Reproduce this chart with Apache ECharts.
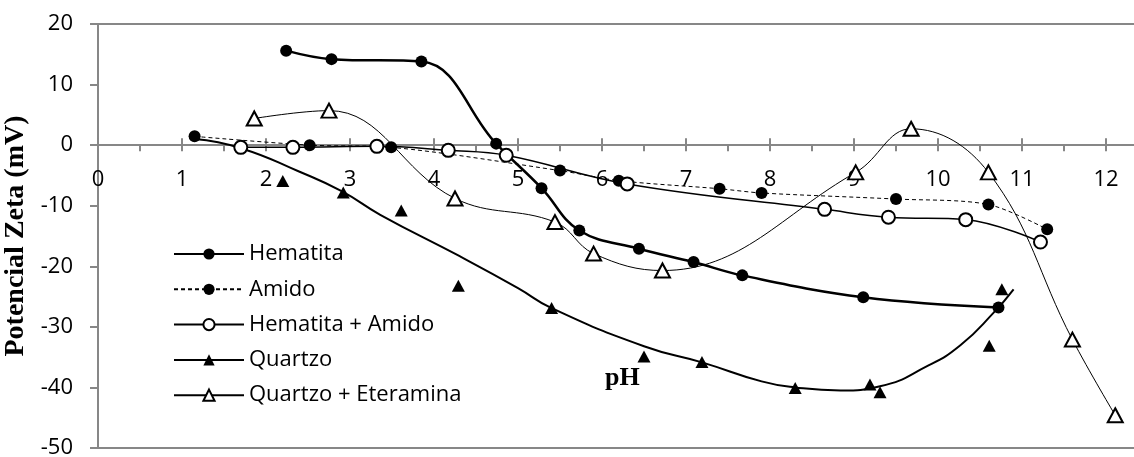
<!DOCTYPE html>
<html>
<head>
<meta charset="utf-8">
<script src="https://cdn.jsdelivr.net/npm/echarts@6/dist/echarts.min.js"></script>
<style>
html,body{margin:0;padding:0;background:#fff;}
#chart{width:1134px;height:457px;}
</style>
</head>
<body>
<div id="chart"></div>
<script>
// ---- data ----
var xTicks = [0,1,2,3,4,5,6,7,8,9,10,11,12];
var yTicks = [-50,-40,-30,-20,-10,0,10,20];

var hematitaX = [2.24, 2.78, 3.85, 4.74, 5.28, 5.73, 6.44, 7.09, 7.67, 9.11, 10.72];
var hematitaY = [15.6, 14.2, 13.8, 0.25, -7.1, -14.1, -17.1, -19.3, -21.5, -25.1, -26.8];

var amidoX = [1.15, 2.52, 3.49, 5.50, 6.20, 7.40, 7.90, 9.50, 10.60, 11.30];
var amidoY = [1.45, 0.0, -0.36, -4.2, -5.86, -7.2, -7.9, -8.9, -9.8, -13.9];

var hemAmidoX = [1.70, 2.32, 3.32, 4.17, 4.86, 6.30, 8.65, 9.41, 10.33, 11.22];
var hemAmidoY = [-0.36, -0.36, -0.2, -0.86, -1.68, -6.4, -10.6, -11.9, -12.3, -16.0];

var quartzoX = [2.20, 2.92, 3.61, 4.29, 5.40, 6.50, 7.19, 8.30, 9.19, 9.31, 10.61, 10.76];
var quartzoY = [-5.9, -7.8, -10.8, -23.2, -26.9, -34.9, -35.8, -40.1, -39.5, -40.8, -33.1, -23.8];

// trendline of Quartzo as drawn in the reference
var trendX = [1.15, 1.7, 2.4, 2.9, 3.36, 4.3, 5.0, 5.4, 6.5, 7.2, 7.9, 8.3, 8.84, 9.31, 9.87, 10.27, 10.66, 10.9];
var trendY = [1.0, -0.5, -4.4, -7.6, -11.5, -18.3, -23.6, -26.9, -33.2, -35.9, -39.0, -40.0, -40.5, -39.8, -36.5, -33.0, -27.7, -23.8];

var qEterX = [1.86, 2.75, 4.25, 5.44, 5.90, 6.72, 9.02, 9.68, 10.60, 11.60, 12.11];
var qEterY = [4.4, 5.7, -8.8, -12.7, -17.9, -20.7, -4.5, 2.7, -4.5, -32.1, -44.6];

var seriesNames = ['Hematita', 'Amido', 'Hematita + Amido', 'Quartzo', 'Quartzo + Eteramina'];
var yAxisTitle = 'Potencial Zeta (mV)';
var xAxisTitle = 'pH';

function pairs(xs, ys){ return xs.map(function(x,i){ return [x, ys[i]]; }); }

var axisGray = '#878787';
var tickFont = '"Open Sans", sans-serif';
var X_MIN = 0, X_MAX = 13, Y_MIN = -50, Y_MAX = 20;
var G_LEFT = 98, G_TOP = 24, G_W = 1092, G_H = 424;
var zeroY = G_TOP + G_H * (Y_MAX - 0) / (Y_MAX - Y_MIN);

var chart = echarts.init(document.getElementById('chart'), null, {renderer:'canvas'});
chart.setOption({
  animation: false,
  backgroundColor: '#fff',
  grid: [
    // main plot
    { left: G_LEFT, top: G_TOP, width: G_W, height: G_H, show: true, borderColor: axisGray, borderWidth: 2,
      backgroundColor: 'transparent', containLabel: false, outerBoundsMode: 'none' },
    // upper part ending at y = 0 (x-axis line, labels, upward ticks)
    { left: G_LEFT, top: G_TOP, width: G_W, height: zeroY - G_TOP, show: false, containLabel: false, outerBoundsMode: 'none' },
    // lower part starting at y = 0 (downward ticks every 0.5)
    { left: G_LEFT, top: zeroY, width: G_W, height: G_TOP + G_H - zeroY, show: false, containLabel: false, outerBoundsMode: 'none' }
  ],
  xAxis: [{
    gridIndex: 0, type: 'value', min: X_MIN, max: X_MAX, interval: 1,
    axisLine: { show: false }, axisTick: { show: false }, axisLabel: { show: false }, splitLine: { show: false }
  }, {
    gridIndex: 1, type: 'value', min: X_MIN, max: X_MAX, interval: 1, position: 'bottom',
    axisLine: { show: true, onZero: false, lineStyle: { color: axisGray, width: 2 } },
    axisTick: { show: true, inside: true, length: 7, lineStyle: { color: axisGray, width: 2 } },
    axisLabel: { margin: 24, color: '#000', fontSize: 22, fontFamily: tickFont,
      formatter: function(v){ return xTicks.indexOf(v) >= 0 ? String(v) : ''; } },
    splitLine: { show: false }
  }, {
    gridIndex: 2, type: 'value', min: X_MIN, max: X_MAX, interval: 0.5, position: 'top',
    axisLine: { show: false, onZero: false },
    axisTick: { show: true, inside: true, length: 6, lineStyle: { color: axisGray, width: 2 } },
    axisLabel: { show: false },
    splitLine: { show: false }
  }],
  yAxis: [{
    gridIndex: 0, type: 'value', min: Y_MIN, max: Y_MAX, interval: 10,
    name: yAxisTitle, nameLocation: 'middle', nameGap: 58, nameRotate: 90,
    nameTextStyle: { fontFamily: '"Liberation Serif", "Times New Roman", serif', fontWeight: 'bold', fontSize: 28, color: '#000' },
    axisLine: { show: true, onZero: false, lineStyle: { color: axisGray, width: 2 } },
    axisTick: { show: true, inside: false, length: 8, lineStyle: { color: axisGray, width: 2 } },
    axisLabel: { margin: 25, color: '#000', fontSize: 22, fontFamily: tickFont,
      formatter: function(v){ return yTicks.indexOf(v) >= 0 ? String(v) : ''; } },
    splitLine: { show: false }
  }, {
    gridIndex: 1, type: 'value', min: 0, max: Y_MAX, show: false
  }, {
    gridIndex: 2, type: 'value', min: Y_MIN, max: 0, show: false
  }],
  legend: {
    orient: 'vertical', left: 173, top: 243, padding: 0, itemWidth: 70, itemHeight: 14, itemGap: 13.3,
    textStyle: { fontFamily: tickFont, fontSize: 22, color: '#000', lineHeight: 22 },
    data: [
      { name: 'Hematita' },
      { name: 'Amido' },
      { name: 'Hematita + Amido' },
      { name: 'Quartzo', lineStyle: { width: 2, color: '#000', opacity: 1, type: 'solid' } },
      { name: 'Quartzo + Eteramina' }
    ]
  },
  graphic: [{
    type: 'text', left: 605, top: 365, silent: true,
    style: { text: xAxisTitle, fontFamily: '"Liberation Serif", "Times New Roman", serif', fontWeight: 'bold', fontSize: 26, fill: '#000' }
  }],
  series: [
    { name: 'Quartzo trend', type: 'line', data: pairs(trendX, trendY), smooth: 0.5, symbol: 'none',
      lineStyle: { color: '#000', width: 2 }, z: 2, silent: true },
    { name: seriesNames[0], type: 'line', data: pairs(hematitaX, hematitaY), smooth: 0.4,
      symbol: 'circle', symbolSize: 12, itemStyle: { color: '#000' },
      lineStyle: { color: '#000', width: 2.5 }, z: 3 },
    { name: seriesNames[1], type: 'line', data: pairs(amidoX, amidoY), smooth: 0.3,
      symbol: 'circle', symbolSize: 12, itemStyle: { color: '#000' },
      lineStyle: { color: '#000', width: 1, type: [4, 3] }, z: 3 },
    { name: seriesNames[2], type: 'line', data: pairs(hemAmidoX, hemAmidoY), smooth: 0.4,
      symbol: 'emptyCircle', symbolSize: 13, itemStyle: { color: '#000', borderWidth: 2 },
      lineStyle: { color: '#000', width: 1.5 }, z: 4 },
    { name: seriesNames[3], type: 'line', data: pairs(quartzoX, quartzoY),
      symbol: 'triangle', symbolSize: [13, 12], itemStyle: { color: '#000' },
      lineStyle: { color: '#000', width: 0, opacity: 0 }, z: 4 },
    { name: seriesNames[4], type: 'line', data: pairs(qEterX, qEterY), smooth: 0.4,
      symbol: 'emptyTriangle', symbolSize: [15, 14], itemStyle: { color: '#000', borderWidth: 2 },
      lineStyle: { color: '#000', width: 1 }, z: 4 }
  ]
});
</script>
</body>
</html>
